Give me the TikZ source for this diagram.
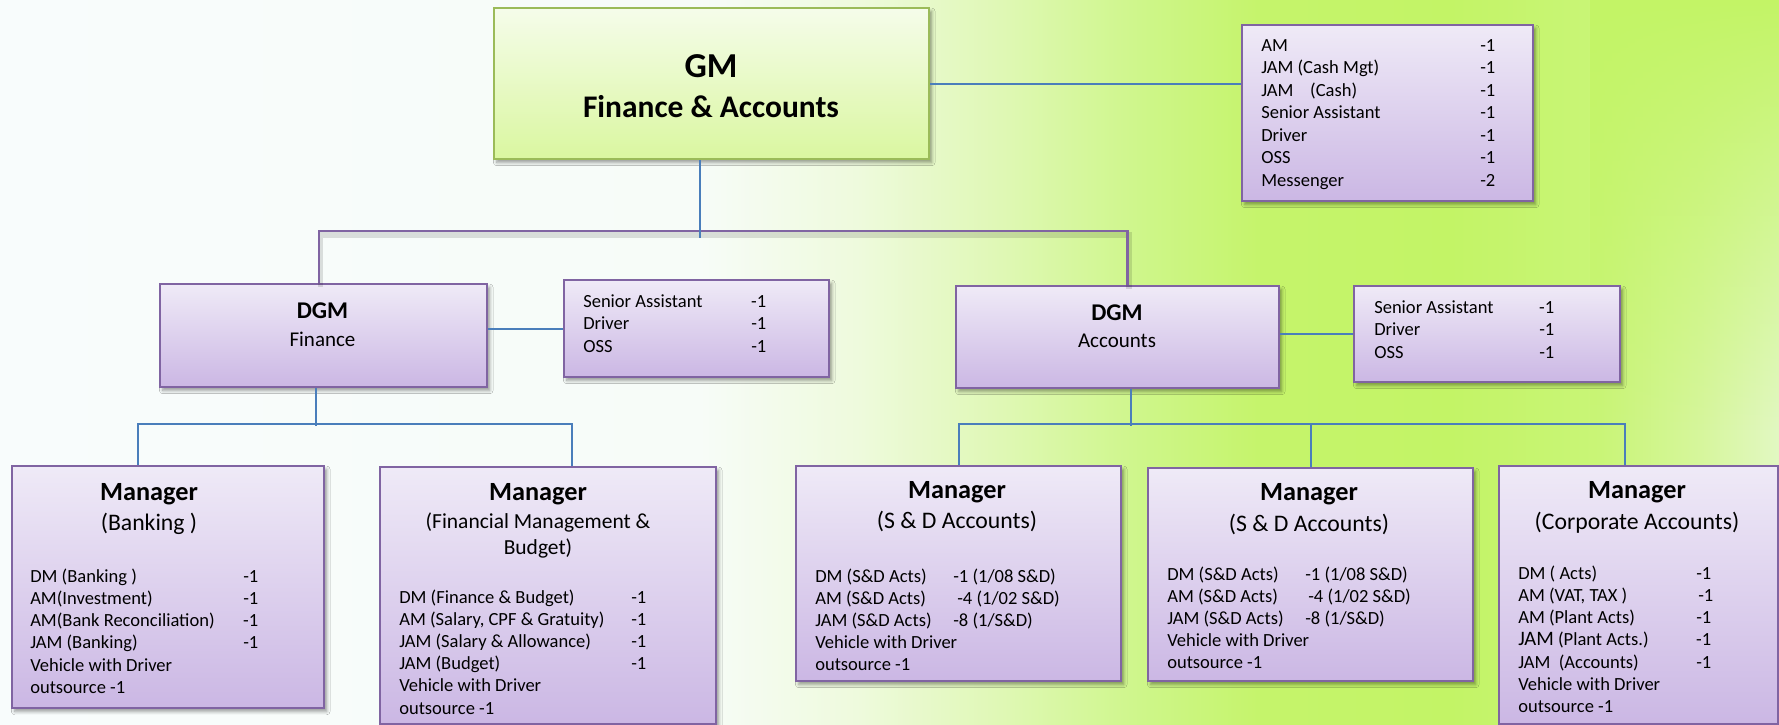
\documentclass[tikz,border=0pt]{standalone}
\usepackage{fontspec}
\setmainfont{Carlito}
\usetikzlibrary{shadows.blur,calc,fadings}
\definecolor{bxtop}{HTML}{EFEAF7}
\definecolor{bxbot}{HTML}{CBB7E4}
\definecolor{bxline}{HTML}{8064A2}
\definecolor{gmtop}{HTML}{F5FCEA}
\definecolor{gmbot}{HTML}{DAF7A0}
\definecolor{gmline}{HTML}{9BBB59}
\definecolor{conn}{HTML}{4A7EBB}
\definecolor{bga}{HTML}{F8FCFC}
\definecolor{bgb}{HTML}{F7FCF8}
\definecolor{bgc}{HTML}{EEFADC}
\definecolor{bgd}{HTML}{DEF8B2}
\definecolor{bge}{HTML}{CEF68A}
\definecolor{bgf}{HTML}{C5F46B}
\definecolor{bgg}{HTML}{C3F466}
\definecolor{bgh}{HTML}{C9F577}
\definecolor{bgi}{HTML}{D6F69C}
\definecolor{bgj}{HTML}{E2F8C2}
\tikzfading[name=fadedown, top color=transparent!0, bottom color=transparent!100]
\newcommand\rowe[3]{\hbox{\makebox[#1][l]{#2}#3}}
\newcommand\fList{\fontsize{13.9}{16.7}\selectfont}
\begin{document}
\begin{tikzpicture}[x=0.75pt,y=-0.75pt,
  box/.style={draw=bxline, line width=1.6pt, top color=bxtop, bottom color=bxbot,
    anchor=north west, inner sep=0pt,
    blur shadow={shadow xshift=2pt, shadow yshift=-2.5pt, shadow blur radius=2.5pt, shadow opacity=40}},
  gmbox/.style={box, draw=gmline, top color=gmtop, bottom color=gmbot},
  lst/.style={anchor=base west, inner sep=0pt, font=\fList},
  ttl/.style={anchor=base, inner sep=0pt, font=\fontsize{19.7}{24}\selectfont\bfseries},
  sub/.style={anchor=base, inner sep=0pt, font=\fontsize{17.8}{21}\selectfont},
  dttl/.style={anchor=base, inner sep=0pt, font=\fontsize{18}{22}\selectfont\bfseries},
  dsub/.style={anchor=base, inner sep=0pt, font=\fontsize{15.75}{19}\selectfont},
  link/.style={draw=conn, line width=1.4pt},
  brk/.style={draw=bxline, line width=1.9pt}]
\useasboundingbox (0,0) rectangle (1779,725);
% background
\shade[left color=bga, right color=bgb] (0,0) rectangle (701,725);
\shade[left color=bgb, right color=bgc] (700,0) rectangle (861,725);
\shade[left color=bgc, right color=bgd] (860,0) rectangle (1011,725);
\shade[left color=bgd, right color=bge] (1010,0) rectangle (1141,725);
\shade[left color=bge, right color=bgf] (1140,0) rectangle (1261,725);
\shade[left color=bgf, right color=bgg] (1260,0) rectangle (1451,725);
\shade[left color=bgg, right color=bgh] (1450,0) rectangle (1601,725);
\shade[left color=bgh, right color=bgi] (1600,0) rectangle (1701,725);
\shade[left color=bgi, right color=bgj] (1700,0) rectangle (1779,725);
\fill[bgg, path fading=fadedown] (1590,0) rectangle (1779,430);

% boxes
\node[gmbox, minimum width=435*0.75pt, minimum height=151*0.75pt] (gm) at (493,7) {};
\node[box, minimum width=291*0.75pt, minimum height=176*0.75pt] (tr) at (1241,24) {};
\node[box, minimum width=327*0.75pt, minimum height=103*0.75pt] (dgmF) at (159,283) {};
\node[box, minimum width=265*0.75pt, minimum height=97*0.75pt] (sideF) at (563,279) {};
\node[box, minimum width=323*0.75pt, minimum height=102*0.75pt] (dgmA) at (955,285) {};
\node[box, minimum width=266*0.75pt, minimum height=96*0.75pt] (sideA) at (1353,285) {};
\node[box, minimum width=312*0.75pt, minimum height=242*0.75pt] (bank) at (11,465) {};
\node[box, minimum width=336*0.75pt, minimum height=257*0.75pt] (fmb) at (379,466) {};
\node[box, minimum width=325*0.75pt, minimum height=215*0.75pt] (sd1) at (795,465) {};
\node[box, minimum width=325*0.75pt, minimum height=213*0.75pt] (sd2) at (1147,467) {};
\node[box, minimum width=279*0.75pt, minimum height=258*0.75pt] (corp) at (1498,465) {};

% connectors
\draw[link] (gm.east) -- (gm.east -| tr.west);
\draw[black, opacity=0.12, line width=4pt, transform canvas={shift={(1pt,-3pt)}}]
  ([xshift=-3.4pt]dgmF.north) -- ++(0,-52) -| ([xshift=7.5pt]dgmA.north);
\draw[brk] ([xshift=-3.4pt]dgmF.north) -- ++(0,-52) -| ([xshift=7.5pt]dgmA.north);
\draw[link] ([xshift=-8.6pt]gm.south) -- ++(0,78);
\draw[link] (dgmF.east |- sideF.west) -- (sideF.west);
\draw[link] (dgmA.east |- sideA.west) -- (sideA.west);
\draw[link] ([xshift=-5.6pt]dgmF.south) -- ++(0,38);
\draw[link] ([xshift=-22.5pt]bank.north) -- ++(0,-41) -| ([xshift=18pt]fmb.north);
\draw[link] ([xshift=10pt]dgmA.south) -- ++(0,37);
\draw[link] (sd1.north) -- ++(0,-41) -| ([xshift=-10pt]corp.north);
\draw[link] (sd2.north) -- ++(0,-43);

% GM
\node[anchor=base, inner sep=0pt, font=\fontsize{26.25}{30}\selectfont\bfseries] (gmT) at (711,77) {GM};
\node[anchor=base, inner sep=0pt, font=\fontsize{23.6}{28}\selectfont\bfseries] (gmS) at (711,117.5) {Finance \& Accounts};
\node[lst] (trL) at (1261,51) {\vtop{\baselineskip=16.875pt
  \rowe{164.25pt}{AM}{-1}
  \rowe{164.25pt}{JAM (Cash Mgt)}{-1}
  \rowe{164.25pt}{JAM\ \ \ \ (Cash)}{-1}
  \rowe{164.25pt}{Senior Assistant}{-1}
  \rowe{164.25pt}{Driver}{-1}
  \rowe{164.25pt}{OSS}{-1}
  \rowe{164.25pt}{Messenger}{-2}}};

% DGM Finance
\node[dttl] (dgmFT) at (322.5,318) {DGM};
\node[dsub] (dgmFS) at (322.5,346) {Finance};
\node[lst] (sideFL) at (583,307) {\vtop{\baselineskip=16.9pt
  \rowe{126pt}{Senior Assistant}{-1}
  \rowe{126pt}{Driver}{-1}
  \rowe{126pt}{OSS}{-1}}};

% DGM Accounts
\node[dttl] (dgmAT) at (1117,320) {DGM};
\node[dsub] (dgmAS) at (1117,347) {Accounts};
\node[lst] (sideAL) at (1374,313) {\vtop{\baselineskip=16.9pt
  \rowe{123.75pt}{Senior Assistant}{-1}
  \rowe{123.75pt}{Driver}{-1}
  \rowe{123.75pt}{OSS}{-1}}};

% Manager Banking
\node[ttl] (bankT) at (149,500) {Manager};
\node[sub] (bankS) at (149,530) {(Banking )};
\node[lst] (bankL) at (30,582) {\vtop{\baselineskip=16.7pt
  \rowe{159.75pt}{DM (Banking )}{-1}
  \rowe{159.75pt}{AM(Investment)}{-1}
  \rowe{159.75pt}{AM(Bank Reconciliation)}{-1}
  \rowe{159.75pt}{JAM (Banking)}{-1}
  \hbox{Vehicle with Driver}
  \hbox{outsource -1}}};

% Manager FMB
\node[ttl] (fmbT) at (538,500) {Manager};
\node[sub, font=\fontsize{16.1}{19.5}\selectfont] (fmbS1) at (538,528) {(Financial Management \&};
\node[sub, font=\fontsize{16.1}{19.5}\selectfont] (fmbS2) at (538,554) {Budget)};
\node[lst] (fmbL) at (399,603) {\vtop{\baselineskip=16.65pt
  \rowe{174pt}{DM (Finance \& Budget)}{-1}
  \rowe{174pt}{AM (Salary, CPF \& Gratuity)}{-1}
  \rowe{174pt}{JAM (Salary \& Allowance)}{-1}
  \rowe{174pt}{JAM (Budget)}{-1}
  \hbox{Vehicle with Driver}
  \hbox{outsource -1}}};

% Manager S&D 1
\node[ttl] (sd1T) at (957,498) {Manager};
\node[sub] (sd1S) at (957,528) {(S \& D Accounts)};
\node[lst] (sd1L) at (815,582) {\vtop{\baselineskip=16.5pt
  \rowe{103.5pt}{DM (S\&D Acts)}{-1 (1/08 S\&D)}
  \rowe{106.5pt}{AM (S\&D Acts)}{-4 (1/02 S\&D)}
  \rowe{103.5pt}{JAM (S\&D Acts)}{-8 (1/S\&D)}
  \hbox{Vehicle with Driver}
  \hbox{outsource -1}}};

% Manager S&D 2
\node[ttl] (sd2T) at (1309,500) {Manager};
\node[sub] (sd2S) at (1309,531) {(S \& D Accounts)};
\node[lst] (sd2L) at (1167,580) {\vtop{\baselineskip=16.5pt
  \rowe{103.5pt}{DM (S\&D Acts)}{-1 (1/08 S\&D)}
  \rowe{105.75pt}{AM (S\&D Acts)}{-4 (1/02 S\&D)}
  \rowe{103.5pt}{JAM (S\&D Acts)}{-8 (1/S\&D)}
  \hbox{Vehicle with Driver}
  \hbox{outsource -1}}};

% Manager Corporate
\node[ttl] (corpT) at (1637,498) {Manager};
\node[sub] (corpS) at (1637,529) {(Corporate Accounts)};
\node[lst] (corpL) at (1518,579) {\vtop{\baselineskip=16.7pt
  \rowe{133.5pt}{DM ( Acts)}{-1}
  \rowe{133.5pt}{AM (VAT, TAX )}{\hspace{1.5pt}-1}
  \rowe{133.5pt}{AM (Plant Acts)}{-1}
  \rowe{133.5pt}{{\fontsize{15.4}{16.7}\selectfont JAM} (Plant Acts.)}{-1}
  \rowe{133.5pt}{JAM\ \ (Accounts)}{-1}
  \hbox{Vehicle with Driver}
  \hbox{outsource -1}}};
\end{tikzpicture}
\end{document}
